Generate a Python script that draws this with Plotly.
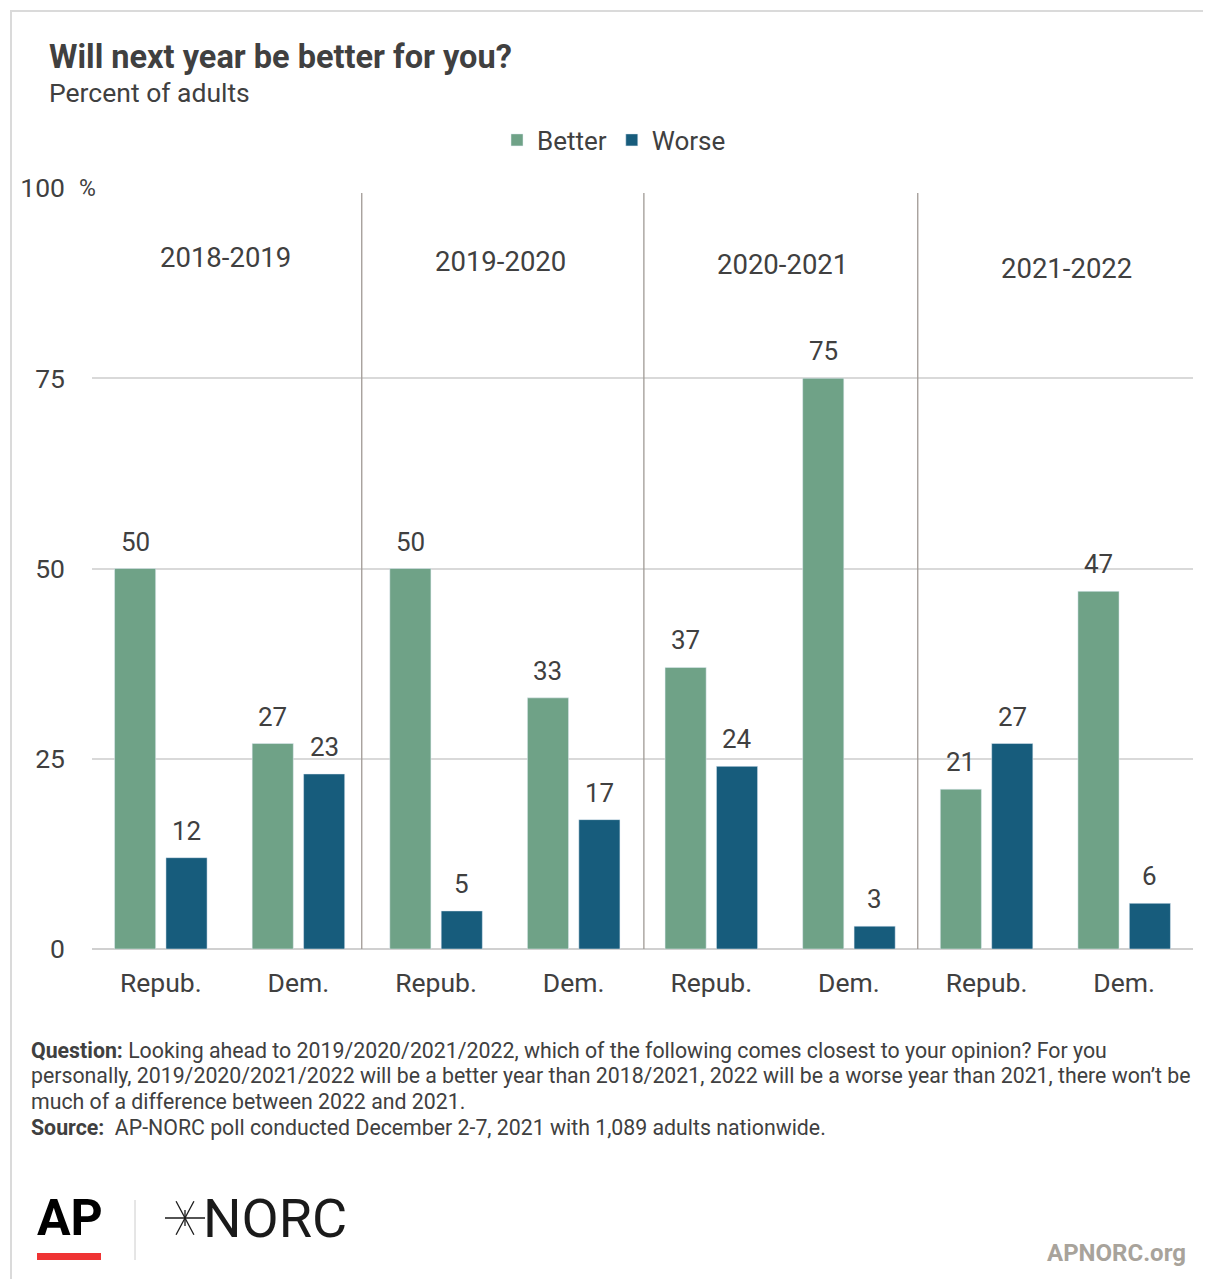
import plotly.graph_objects as go
import math

# ---- data ----
groups = ["Repub.", "Dem.", "Repub.", "Dem.", "Repub.", "Dem.", "Repub.", "Dem."]
periods = ["2018-2019", "2019-2020", "2020-2021", "2021-2022"]
better = [50, 27, 50, 33, 37, 75, 21, 47]
worse = [12, 23, 5, 17, 24, 3, 27, 6]
y_ticks = [0, 25, 50, 75, 100]

# label / separator placement (axis units)
period_label_x = [0.47, 2.47, 4.52, 6.58]
period_label_y = [90.9, 90.4, 89.9, 89.4]
separator_x = [1.46, 3.51, 5.5]

C_BETTER = "#6FA287"
C_WORSE = "#175C7C"
TXT = "#404040"
FONT = "Roboto"

SHIFT = 8  # page body margin
W, H = 1211 - SHIFT, 1279 - SHIFT
L, R, T, B = 92, 1193, 188, 949  # plot area px (reference coords)


def px(x):
    return (x - L) / (R - L)


def py(y):
    return (B - y) / (B - T)


xs = list(range(len(groups)))

fig = go.Figure()
fig.add_trace(go.Bar(name="Better", x=xs, y=better, marker_color=C_BETTER))
fig.add_trace(go.Bar(name="Worse", x=xs, y=worse, marker_color=C_WORSE))

ann = []
off = 0.187
for i, v in enumerate(better):
    ann.append(dict(x=i - off, y=v, xref="x", yref="y", text=str(v), showarrow=False,
                    yshift=27, font=dict(size=26, color=TXT, family=FONT)))
for i, v in enumerate(worse):
    ann.append(dict(x=i + off, y=v, xref="x", yref="y", text=str(v), showarrow=False,
                    yshift=27, font=dict(size=26, color=TXT, family=FONT)))
for k, p in enumerate(periods):
    ann.append(dict(x=period_label_x[k], y=period_label_y[k], xref="x", yref="y", text=p,
                    showarrow=False, font=dict(size=27.5, color=TXT, family=FONT)))

# % sign next to 100
ann.append(dict(x=px(77), y=100, xref="paper", yref="y", text="%", showarrow=False,
                xanchor="left", font=dict(size=23, color=TXT, family=FONT)))

# title / subtitle
ann.append(dict(x=px(47), y=py(57), xref="paper", yref="paper", xanchor="left", yanchor="middle",
                text="<b>Will next year be better for you?</b>", showarrow=False,
                font=dict(size=32.5, color=TXT, family=FONT)))
ann.append(dict(x=px(47), y=py(92), xref="paper", yref="paper", xanchor="left", yanchor="middle",
                text="Percent of adults", showarrow=False,
                font=dict(size=26.5, color=TXT, family=FONT)))

# footnote
foot_lines = [
    "<b>Question:</b> Looking ahead to 2019/2020/2021/2022, which of the following comes closest to your opinion? For you",
    "personally, 2019/2020/2021/2022 will be a better year than 2018/2021, 2022 will be a worse year than 2021, there won\u2019t be",
    "much of a difference between 2022 and 2021.",
    "<b>Source:</b>  AP-NORC poll conducted December 2-7, 2021 with 1,089 adults nationwide.",
]
foot_y = [1050, 1075, 1101, 1127]
for line, yy in zip(foot_lines, foot_y):
    ann.append(dict(x=px(29), y=py(yy), xref="paper", yref="paper", xanchor="left", yanchor="middle",
                    align="left", text=line, showarrow=False,
                    font=dict(size=21.3, color=TXT, family=FONT)))

# logos
ann.append(dict(x=px(35), y=py(1218), xref="paper", yref="paper", xanchor="left", yanchor="middle",
                text="<b>AP</b>", showarrow=False,
                font=dict(size=50, color="#000000", family=FONT)))
ann.append(dict(x=px(201), y=py(1218), xref="paper", yref="paper", xanchor="left", yanchor="middle",
                text="NORC", showarrow=False,
                font=dict(size=54, color="#1a1a1a", family=FONT)))
ann.append(dict(x=px(1188), y=py(1253), xref="paper", yref="paper", xanchor="right", yanchor="middle",
                text="<b>APNORC.org</b>", showarrow=False,
                font=dict(size=24, color="#A8A39B", family=FONT)))

shapes = []
# border card
shapes.append(dict(type="rect", xref="paper", yref="paper", x0=px(11), x1=px(1216), y0=py(11), y1=py(1290),
                   line=dict(color="#DADADA", width=2), fillcolor="rgba(0,0,0,0)", layer="below"))
# separators
for sx in separator_x:
    shapes.append(dict(type="line", xref="x", yref="paper", x0=sx, x1=sx,
                       y0=0, y1=py(193), line=dict(color="#A09A95", width=1.3)))
# red AP bar
shapes.append(dict(type="rect", xref="paper", yref="paper", x0=px(37), x1=px(101), y0=py(1260), y1=py(1253),
                   fillcolor="#EF3333", line=dict(width=0)))
# divider
shapes.append(dict(type="line", xref="paper", yref="paper", x0=px(135), x1=px(135), y0=py(1260), y1=py(1200),
                   line=dict(color="#CCCCCC", width=1)))
# NORC star
cx, cy = 185, 1218
for ang, r in [(0, 20), (62, 19), (-62, 19), (90, 8)]:
    dx = r * math.cos(math.radians(ang))
    dy = r * math.sin(math.radians(ang))
    shapes.append(dict(type="line", xref="paper", yref="paper", x0=px(cx - dx), x1=px(cx + dx),
                       y0=py(cy - dy), y1=py(cy + dy), line=dict(color="#1a1a1a", width=1.3)))

fig.update_layout(
    width=W, height=H,
    margin=dict(l=L - SHIFT, r=W - (R - SHIFT), t=T - SHIFT, b=H - (B - SHIFT)),
    paper_bgcolor="white", plot_bgcolor="white",
    barmode="group", bargap=0.253, bargroupgap=0.2,
    font=dict(family=FONT, color=TXT),
    showlegend=True,
    legend=dict(orientation="h", x=px(614), xanchor="center", y=py(140), yanchor="middle",
                font=dict(size=26, color=TXT, family=FONT), itemwidth=30, traceorder="normal"),
    annotations=ann,
    shapes=shapes,
    xaxis=dict(range=[-0.5, 7.5], tickmode="array", tickvals=xs, ticktext=groups,
               tickfont=dict(size=26.5, color=TXT, family=FONT), showgrid=False, zeroline=False,
               showline=False, ticks="", ticklabelstandoff=15, fixedrange=True),
    yaxis=dict(range=[0, 100], tickmode="array", tickvals=y_ticks, ticktext=[str(t) for t in y_ticks],
               tickfont=dict(size=26.5, color=TXT, family=FONT), showgrid=True, gridcolor="#D9D9D9",
               gridwidth=1.5, zeroline=True, zerolinecolor="#D0D0D0", zerolinewidth=2,
               ticks="", ticklabelstandoff=26, fixedrange=True),
)

fig.write_html("out.html")
